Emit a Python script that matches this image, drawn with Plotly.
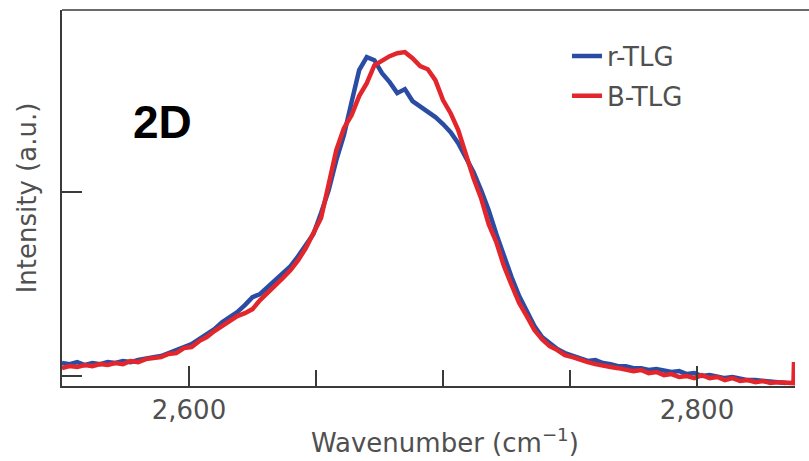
import plotly.graph_objects as go

wavenumber = [2550 + 3 * k for k in range(97)]

r_tlg = [0.071, 0.065, 0.076, 0.060, 0.071, 0.065, 0.076, 0.071, 0.082, 0.076,
         0.087, 0.092, 0.103, 0.109, 0.125, 0.136, 0.158, 0.174, 0.201, 0.228,
         0.255, 0.293, 0.321, 0.348, 0.386, 0.429, 0.446, 0.484, 0.516, 0.554,
         0.598, 0.652, 0.712, 0.772, 0.886, 1.011, 1.174, 1.310, 1.489, 1.663,
         1.734, 1.717, 1.647, 1.598, 1.538, 1.560, 1.495, 1.467, 1.440, 1.408,
         1.370, 1.326, 1.266, 1.190, 1.109, 1.011, 0.902, 0.772, 0.652, 0.538,
         0.435, 0.348, 0.272, 0.212, 0.179, 0.147, 0.125, 0.109, 0.098, 0.082,
         0.087, 0.071, 0.065, 0.054, 0.054, 0.043, 0.043, 0.033, 0.038, 0.027,
         0.022, 0.027, 0.011, 0.016, 0.000, 0.005, -0.005, -0.011, -0.005, -0.016,
         -0.022, -0.022, -0.027, -0.027, -0.033, -0.038, None]

b_tlg = [0.043, 0.054, 0.049, 0.060, 0.054, 0.065, 0.060, 0.071, 0.065, 0.082,
         0.076, 0.092, 0.098, 0.103, 0.120, 0.125, 0.152, 0.158, 0.190, 0.212,
         0.245, 0.272, 0.304, 0.326, 0.342, 0.364, 0.413, 0.451, 0.489, 0.533,
         0.576, 0.630, 0.696, 0.772, 0.859, 1.043, 1.228, 1.348, 1.418, 1.522,
         1.592, 1.690, 1.717, 1.739, 1.755, 1.761, 1.728, 1.685, 1.668, 1.609,
         1.500, 1.429, 1.337, 1.201, 1.076, 0.967, 0.826, 0.728, 0.598, 0.495,
         0.397, 0.326, 0.250, 0.201, 0.163, 0.141, 0.114, 0.103, 0.087, 0.076,
         0.065, 0.060, 0.049, 0.043, 0.038, 0.027, 0.033, 0.016, 0.022, 0.005,
         0.011, -0.005, 0.000, -0.011, 0.005, -0.011, -0.005, -0.022, -0.011, -0.027,
         -0.022, -0.033, -0.027, -0.038, -0.033, -0.038, -0.038]

# final spike at the end of the B-TLG spectrum
b_tail_x = [2838.2, 2838.4]
b_tail_y = [0.076, -0.040]

x_tickvals = [2600, 2800]
x_ticktext = ["2,600", "2,800"]
x_minor = [2650, 2700, 2750]
y_tickvals = [0, 1]

BLUE = "#2a4da3"
RED = "#e2262b"
AX = "#3a3a3a"
TXT = "#505050"
FONT = "DejaVu Sans"
FS = 26

fig = go.Figure()
fig.add_trace(go.Scatter(x=wavenumber, y=r_tlg, mode="lines", name="r-TLG",
                         legendgroup="a", line=dict(color=BLUE, width=4.5)))
fig.add_trace(go.Scatter(x=wavenumber + b_tail_x, y=b_tlg + b_tail_y, mode="lines",
                         name="B-TLG", legendgroup="b",
                         line=dict(color=RED, width=4.5)))

fig.update_layout(
    width=809, height=461,
    margin=dict(l=62, r=14, t=10, b=75),
    paper_bgcolor="white", plot_bgcolor="white",
    font=dict(family=FONT, color=TXT, size=FS),
    showlegend=True,
    legend=dict(x=(567 - 62) / 733, y=0.94, xanchor="left", yanchor="top",
                bgcolor="rgba(0,0,0,0)", font=dict(size=FS, color=TXT),
                traceorder="grouped", tracegroupgap=3, itemwidth=30),
    xaxis=dict(range=[2550, 2838.6], showgrid=False, zeroline=False,
               showline=True, linecolor=AX, linewidth=1.5,
               tickmode="array", tickvals=x_tickvals, ticktext=x_ticktext,
               ticks="inside", ticklen=20, tickwidth=1.5, tickcolor=AX,
               minor=dict(tickmode="array", tickvals=x_minor, ticks="inside",
                          ticklen=16, tickwidth=1.5, tickcolor=AX),
               tickfont=dict(size=FS, color=TXT)),
    yaxis=dict(range=[-0.054, 1.99], showgrid=False, zeroline=False,
               showline=True, linecolor=AX, linewidth=1.5,
               tickmode="array", tickvals=y_tickvals, showticklabels=False,
               ticks="inside", ticklen=20, tickwidth=1.5, tickcolor=AX,
               title=dict(text="Intensity (a.u.)",
                          font=dict(size=FS, color=TXT), standoff=16)),
)

# x-axis title (sits right of the plot centre in the original)
fig.add_annotation(text="Wavenumber (cm<sup>−1</sup>)", xref="paper", yref="paper",
                   x=(445 - 62) / 733, y=-(441 - 386) / 376, showarrow=False,
                   xanchor="center", yanchor="middle",
                   font=dict(family=FONT, size=FS, color=TXT))

# top frame line, running to the right edge of the picture
fig.add_shape(type="line", xref="paper", yref="paper", x0=0, x1=1.03, y0=1, y1=1,
              line=dict(color=AX, width=1.5))

fig.add_annotation(text="<b>2D</b>", xref="paper", yref="paper",
                   x=(162 - 62) / 733, y=(386 - 122) / 376, showarrow=False,
                   xanchor="center", yanchor="middle",
                   font=dict(family="Liberation Sans", size=46, color="black"))

fig.write_html("out.html")
